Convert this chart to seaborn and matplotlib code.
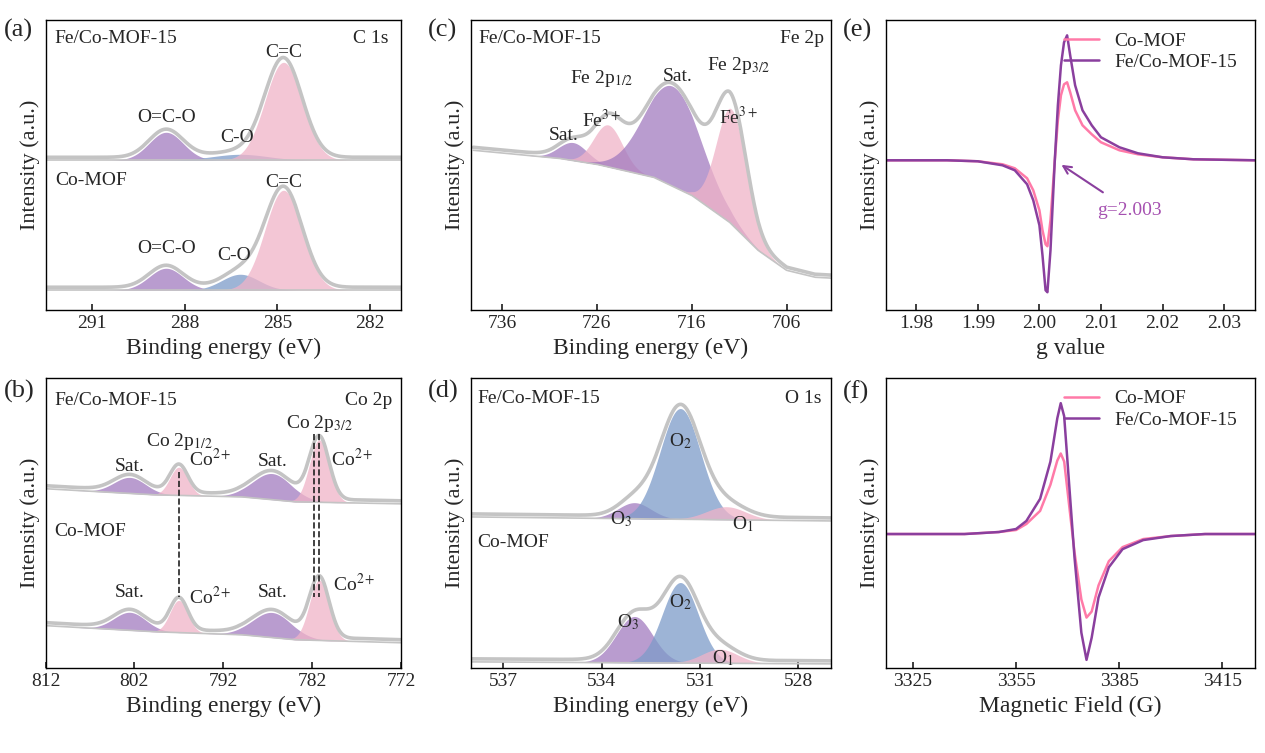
import numpy as np
import matplotlib
matplotlib.use("Agg")
import matplotlib.pyplot as plt
import seaborn as sns
import pandas as pd

sns.set_theme(style="white")
plt.rcParams['font.family'] = ['Liberation Serif', 'DejaVu Serif']
plt.rcParams['mathtext.fontset'] = 'stix'

PINK, PURP, BLUE = '#f0b3c8', '#a27bbf', '#7d9bc9'
ENV = '#c4c4c4'

# ---- (a) C 1s : (center, amp, width, color) ; background points
a_top_bg = [(292.5, 150), (281, 150)]
a_top_peaks = [(288.6, 28, 0.55, PURP), (286.2, 6, 0.9, BLUE), (284.8, 98, 0.6, PINK)]
a_bot_bg = [(292.5, 20), (281, 20)]
a_bot_peaks = [(288.6, 22, 0.55, PURP), (286.2, 16, 0.6, BLUE), (284.8, 100, 0.6, PINK)]
# ---- (b) Co 2p
b_top_bg = [(812, 178), (800, 172), (790, 170), (784, 165), (772, 163)]
b_top_peaks = [(802.5, 16, 1.8, PURP), (797, 28, 1.0, PINK), (786.5, 26, 2.2, PURP), (781.2, 62, 1.1, PINK)]
b_bot_bg = [(812, 42), (800, 36), (790, 33), (784, 28), (772, 25)]
b_bot_peaks = [(802.5, 18, 1.8, PURP), (797, 32, 1.0, PINK), (786.5, 25, 2.2, PURP), (781.2, 60, 1.1, PINK)]
# ---- (c) Fe 2p
c_bg = [(739, 160), (730, 152), (726, 146), (720, 133), (716, 115), (712, 88), (709, 60), (706, 40), (703, 33), (701, 32)]
c_peaks = [(728.5, 18, 1.5, PURP), (724.8, 42, 1.5, PINK), (718.0, 100, 3.0, PURP), (711.8, 115, 1.6, PINK)]
# ---- (d) O 1s
d_top_bg = [(538, 150), (527, 146)]
d_top_peaks = [(533.0, 16, 0.5, PURP), (531.6, 110, 0.62, BLUE), (530.2, 13, 0.6, PINK)]
d_bot_bg = [(538, 6), (527, 4)]
d_bot_peaks = [(533.0, 46, 0.55, PURP), (531.6, 80, 0.55, BLUE), (530.4, 14, 0.55, PINK)]

# ---- (e) EPR vs g
e_g = [1.975, 1.985, 1.99, 1.994, 1.996, 1.998, 1.999, 2.000, 2.0005, 2.001, 2.0013, 2.0018, 2.0025, 2.003, 2.0035, 2.004, 2.0045, 2.005, 2.0058, 2.007, 2.0085, 2.01, 2.013, 2.016, 2.02, 2.025, 2.035]
e_fe = [150, 150, 149, 145, 140, 126, 110, 85, 55, 20, 18, 60, 150, 205, 245, 268, 275, 255, 225, 200, 185, 173, 163, 157, 153, 151, 150]
e_co = [150, 150, 149, 146, 142, 132, 120, 100, 80, 66, 64, 90, 150, 190, 215, 226, 228, 218, 200, 185, 176, 168, 160, 156, 153, 151, 150]
# ---- (f) EPR vs field
f_b = [3317, 3340, 3350, 3355, 3358, 3362, 3365, 3367, 3368, 3369, 3370.5, 3372, 3374, 3375.5, 3377, 3379, 3382, 3386, 3392, 3400, 3410, 3424.5]
f_fe = [133, 133, 135, 138, 146, 168, 205, 248, 263, 250, 180, 110, 35, 8, 30, 70, 100, 118, 127, 131, 133, 133]
f_co = [133, 133, 135, 137, 143, 156, 182, 206, 213, 205, 160, 115, 68, 50, 56, 82, 106, 120, 128, 131, 133, 133]

fig = plt.figure(figsize=(12.65, 7.53), dpi=100)
L = [0.036, 0.372, 0.70]
W = [0.281, 0.285, 0.292]
B = [0.588, 0.113]
H = 0.385
axs = {}
for i, k in enumerate(['a', 'c', 'e']):
    axs[k] = fig.add_axes([L[i], B[0], W[i], H])
for i, k in enumerate(['b', 'd', 'f']):
    axs[k] = fig.add_axes([L[i], B[1], W[i], H])


def gauss(x, c, a, w):
    return a * np.exp(-0.5 * ((x - c) / w) ** 2)


def spectrum(ax, x, bgpts, peaks):
    bx = [p[0] for p in bgpts][::-1]
    by = [p[1] for p in bgpts][::-1]
    bg = np.interp(x, bx, by)
    total = bg.copy()
    for c, a, w, col in peaks:
        g = gauss(x, c, a, w)
        ax.fill_between(x, bg, bg + g, color=col, alpha=0.75, lw=0)
        total += g
    ax.plot(x, bg, color=ENV, lw=1.2)
    sns.lineplot(x=x, y=total + 3, ax=ax, color=ENV, lw=2.6)


def style(ax, xlim, ticks, ylim, xlabel='Binding energy (eV)'):
    ax.set_xlim(*xlim)
    ax.set_ylim(*ylim)
    ax.set_xticks(ticks)
    ax.set_yticks([])
    ax.set_xlabel(xlabel, fontsize=17)
    ax.set_ylabel('Intensity (a.u.)', fontsize=16)
    ax.tick_params(axis='x', direction='in', labelsize=14, length=4, bottom=True)
    for s in ax.spines.values():
        s.set_color('black'); s.set_linewidth(1.0)


# (a)
ax = axs['a']
x = np.linspace(292.5, 281, 600)
spectrum(ax, x, a_top_bg, a_top_peaks)
spectrum(ax, x, a_bot_bg, a_bot_peaks)
style(ax, (292.5, 281), [291, 288, 285, 282], (0, 290))
ax.text(292.2, 272, 'Fe/Co-MOF-15', fontsize=14, va='center')
ax.text(281.4, 272, 'C 1s', fontsize=14, va='center', ha='right')
ax.text(292.2, 130, 'Co-MOF', fontsize=14, va='center')
for (xx, yy, t) in [(288.6, 193, 'O=C-O'), (286.3, 173, 'C-O'), (284.8, 258, 'C=C'),
                    (288.6, 62, 'O=C-O'), (286.4, 55, 'C-O'), (284.8, 128, 'C=C')]:
    ax.text(xx, yy, t, fontsize=14, ha='center', va='center')

# (b)
ax = axs['b']
x = np.linspace(812, 772, 800)
spectrum(ax, x, b_top_bg, b_top_peaks)
spectrum(ax, x, b_bot_bg, b_bot_peaks)
style(ax, (812, 772), [812, 802, 792, 782, 772], (0, 288))
ax.text(811, 266, 'Fe/Co-MOF-15', fontsize=14, va='center')
ax.text(773, 266, 'Co 2p', fontsize=14, va='center', ha='right')
ax.text(811, 136, 'Co-MOF', fontsize=14, va='center')
ax.plot([797, 797], [195, 70], ls='--', color='#222', lw=1.2)
ax.plot([781.8, 781.8], [232, 70], ls='--', color='#222', lw=1.2)
ax.plot([781.2, 781.2], [232, 70], ls='--', color='#222', lw=1.2)
for (xx, yy, t) in [(802.5, 200, 'Sat.'), (797, 225, 'Co 2p$_{1/2}$'), (793.5, 207, 'Co$^{2+}$'),
                    (786.5, 205, 'Sat.'), (781.2, 243, 'Co 2p$_{3/2}$'), (777.5, 207, 'Co$^{2+}$'),
                    (802.5, 75, 'Sat.'), (793.5, 70, 'Co$^{2+}$'), (786.5, 75, 'Sat.'), (777.3, 83, 'Co$^{2+}$')]:
    ax.text(xx, yy, t, fontsize=14, ha='center', va='center')

# (c)
ax = axs['c']
x = np.linspace(739, 701, 700)
spectrum(ax, x, c_bg, c_peaks)
style(ax, (739.3, 701.3), [736, 726, 716, 706], (0, 290))
ax.text(738.5, 272, 'Fe/Co-MOF-15', fontsize=14, va='center')
ax.text(702, 272, 'Fe 2p', fontsize=14, va='center', ha='right')
for (xx, yy, t) in [(729.5, 175, 'Sat.'), (725.5, 190, 'Fe$^{3+}$'), (725.5, 232, 'Fe 2p$_{1/2}$'),
                    (717.5, 234, 'Sat.'), (711, 245, 'Fe 2p$_{3/2}$'), (711, 193, 'Fe$^{3+}$')]:
    ax.text(xx, yy, t, fontsize=14, ha='center', va='center')

# (d)
ax = axs['d']
x = np.linspace(538, 527, 600)
spectrum(ax, x, d_top_bg, d_top_peaks)
spectrum(ax, x, d_bot_bg, d_bot_peaks)
style(ax, (538, 527), [537, 534, 531, 528], (0, 288))
ax.text(537.8, 268, 'Fe/Co-MOF-15', fontsize=14, va='center')
ax.text(527.3, 268, 'O 1s', fontsize=14, va='center', ha='right')
ax.text(537.8, 125, 'Co-MOF', fontsize=14, va='center')
for (xx, yy, t) in [(531.6, 225, 'O$_2$'), (533.4, 148, 'O$_3$'), (529.7, 143, 'O$_1$'),
                    (531.6, 65, 'O$_2$'), (533.2, 45, 'O$_3$'), (530.3, 10, 'O$_1$')]:
    ax.text(xx, yy, t, fontsize=14, ha='center', va='center')

# (e)
ax = axs['e']
df = pd.DataFrame({'x': e_g * 2, 'y': e_co + e_fe,
                   's': ['Co-MOF'] * len(e_g) + ['Fe/Co-MOF-15'] * len(e_g)})
sns.lineplot(data=df, x='x', y='y', hue='s', palette=['#ff7aa8', '#8a3f9e'], lw=1.8, ax=ax, sort=False)
style(ax, (1.975, 2.035), [1.98, 1.99, 2.00, 2.01, 2.02, 2.03], (0, 290), xlabel='g value')
ax.set_xticklabels(['1.98', '1.99', '2.00', '2.01', '2.02', '2.03'])
ax.legend(title=None, loc='upper right', bbox_to_anchor=(1.0, 1.02), frameon=False, fontsize=14,
          handlelength=1.8, labelspacing=0.2)
ax.annotate('g=2.003', xy=(2.0032, 147), xytext=(2.0147, 100), color='#a550b0', fontsize=14,
            ha='center', va='center',
            arrowprops=dict(arrowstyle='->', color='#8a3f9e', lw=1.5, shrinkA=8))

# (f)
ax = axs['f']
df = pd.DataFrame({'x': f_b * 2, 'y': f_co + f_fe,
                   's': ['Co-MOF'] * len(f_b) + ['Fe/Co-MOF-15'] * len(f_b)})
sns.lineplot(data=df, x='x', y='y', hue='s', palette=['#ff7aa8', '#8a3f9e'], lw=1.8, ax=ax, sort=False)
style(ax, (3317, 3424.5), [3325, 3355, 3385, 3415], (0, 288), xlabel='Magnetic Field (G)')
ax.legend(title=None, loc='upper right', bbox_to_anchor=(1.0, 1.02), frameon=False, fontsize=14,
          handlelength=1.8, labelspacing=0.2)

for k, (xx, yy) in {'a': (0.003, 0.975), 'c': (0.338, 0.975), 'e': (0.666, 0.975),
                    'b': (0.003, 0.495), 'd': (0.338, 0.495), 'f': (0.666, 0.495)}.items():
    fig.text(xx, yy, f'({k})', fontsize=19, va='top')

fig.savefig('out.png', dpi=100)
